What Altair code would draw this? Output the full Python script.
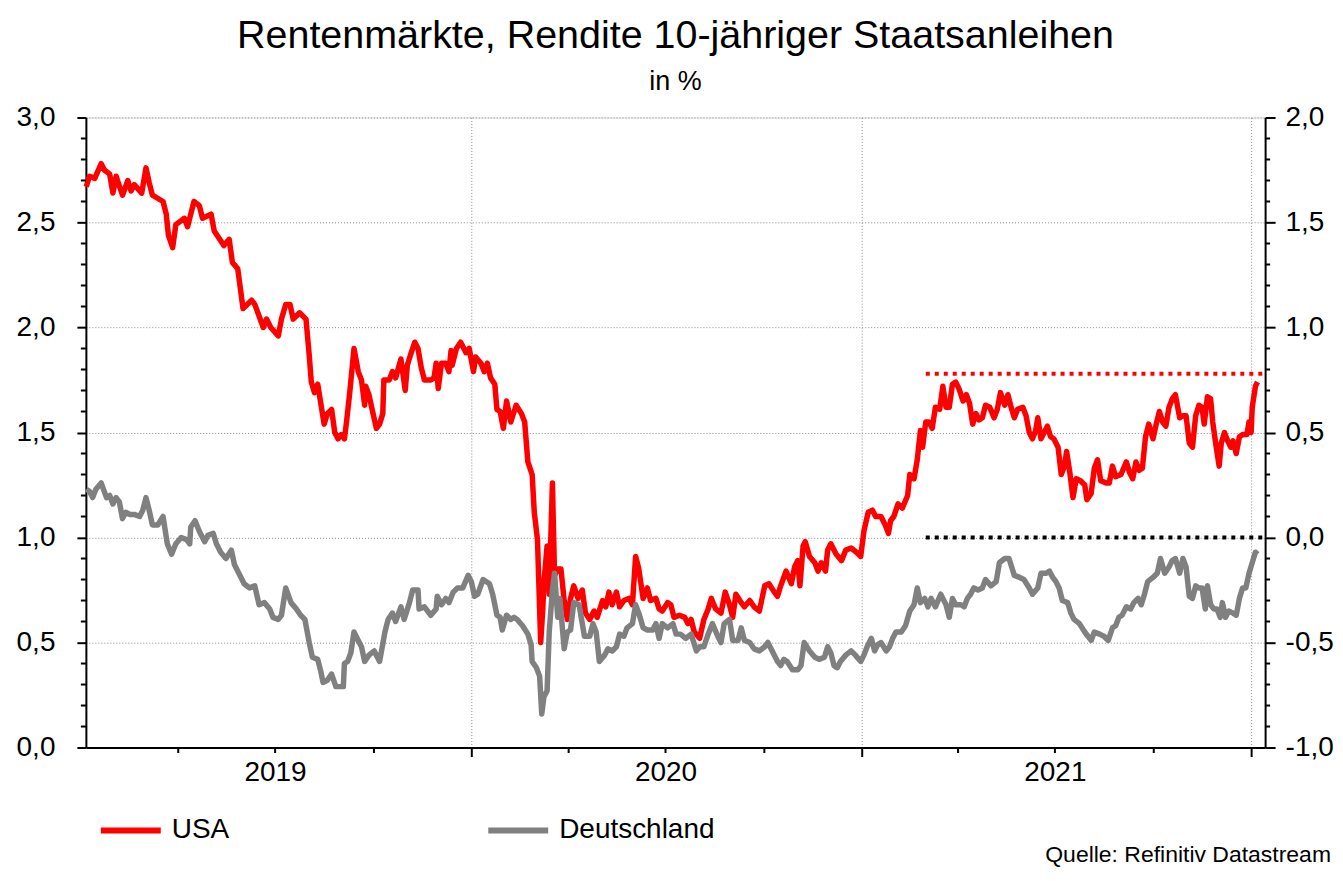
import altair as alt
import pandas as pd

# ---------------- data (days since 2019-01-01, yields in %) ----------------
us_day = [
    4, 7, 12, 18, 21, 26, 29, 32, 38, 43,
    46, 49, 56, 60, 63, 66, 76, 79, 81, 85,
    88, 96, 99, 105, 110, 113, 121, 124, 133, 138,
    141, 146, 151, 159, 162, 170, 173, 177, 184, 187,
    191, 195, 198, 204, 210, 213, 215, 218, 221, 227,
    230, 234, 237, 240, 243, 246, 248, 251, 255, 259,
    262, 265, 266, 269, 272, 276, 279, 282, 283, 288,
    291, 294, 299, 303, 305, 308, 312, 315, 318, 321,
    327, 330, 332, 334, 337, 341, 344, 346, 347, 351,
    355, 360, 363, 367, 369, 374, 377, 380, 383, 387,
    389, 392, 395, 398, 402, 407, 412, 415, 418, 422,
    424, 427, 430, 432, 433, 436, 438, 441, 443, 446,
    449, 452, 455, 458, 461, 465, 469, 472, 476, 480,
    483, 488, 491, 494, 497, 501, 504, 508, 513, 516,
    519, 522, 526, 530, 533, 538, 541, 544, 549, 552,
    555, 560, 565, 568, 571, 574, 579, 583, 587, 590,
    594, 599, 603, 607, 610, 613, 618, 621, 626, 630,
    635, 640, 644, 649, 652, 655, 660, 665, 668, 671,
    673, 676, 678, 682, 687, 690, 693, 697, 699, 702,
    707, 712, 716, 721, 726, 730, 733, 737, 741, 744,
    749, 753, 756, 758, 761, 765, 769, 774, 776, 780,
    783, 786, 788, 791, 794, 797, 800, 804, 807, 810,
    813, 816, 819, 822, 826, 829, 832, 835, 838, 841,
    844, 847, 851, 855, 858, 861, 865, 868, 871, 874,
    877, 882, 885, 888, 891, 894, 896, 899, 902, 905,
    908, 911, 915, 918, 921, 923, 926, 929, 932, 936,
    940, 942, 946, 949, 952, 955, 960, 963, 966, 969,
    974, 979, 982, 985, 988, 991, 994, 997, 1000, 1004,
    1007, 1010, 1013, 1016, 1019, 1022, 1025, 1029, 1032, 1035,
    1038, 1041, 1044, 1047, 1050, 1052, 1055, 1058, 1060, 1063,
    1066, 1068, 1071, 1074, 1077, 1079, 1082, 1085, 1088, 1092,
    1094, 1096, 1097, 1100, 1102,
]
us_val = [
    2.67, 2.72, 2.71, 2.78, 2.75, 2.73, 2.64, 2.72, 2.63, 2.70,
    2.65, 2.68, 2.64, 2.76, 2.69, 2.63, 2.60, 2.54, 2.44, 2.38,
    2.49, 2.52, 2.48, 2.60, 2.58, 2.52, 2.54, 2.46, 2.39, 2.42,
    2.31, 2.28, 2.09, 2.13, 2.11, 2.00, 2.04, 2.00, 1.96, 2.04,
    2.11, 2.11, 2.04, 2.07, 2.04, 1.87, 1.74, 1.69, 1.73, 1.54,
    1.59, 1.61, 1.50, 1.47, 1.49, 1.47, 1.55, 1.69, 1.90, 1.79,
    1.75, 1.63, 1.72, 1.68, 1.61, 1.52, 1.54, 1.59, 1.75, 1.75,
    1.79, 1.76, 1.85, 1.70, 1.82, 1.87, 1.93, 1.90, 1.81, 1.75,
    1.75, 1.76, 1.83, 1.71, 1.83, 1.83, 1.79, 1.89, 1.82, 1.90,
    1.93, 1.88, 1.90, 1.79, 1.86, 1.83, 1.79, 1.83, 1.76, 1.73,
    1.61, 1.60, 1.52, 1.65, 1.55, 1.63, 1.59, 1.55, 1.36, 1.30,
    1.12, 0.99, 0.50, 0.66, 0.78, 0.96, 0.73, 1.26, 0.82, 0.85,
    0.85, 0.70, 0.61, 0.71, 0.77, 0.71, 0.75, 0.64, 0.61, 0.65,
    0.62, 0.70, 0.67, 0.74, 0.68, 0.74, 0.67, 0.70, 0.71, 0.68,
    0.91, 0.85, 0.71, 0.76, 0.70, 0.71, 0.66, 0.65, 0.69, 0.68,
    0.62, 0.63, 0.62, 0.59, 0.61, 0.55, 0.52, 0.61, 0.66, 0.71,
    0.66, 0.64, 0.74, 0.68, 0.62, 0.73, 0.69, 0.67, 0.70, 0.67,
    0.65, 0.77, 0.78, 0.74, 0.72, 0.77, 0.84, 0.78, 0.86, 0.89,
    0.77, 0.96, 0.98, 0.91, 0.88, 0.84, 0.88, 0.84, 0.94, 0.97,
    0.92, 0.89, 0.94, 0.95, 0.93, 0.91, 1.03, 1.12, 1.13, 1.10,
    1.10, 1.06, 1.02, 1.08, 1.10, 1.16, 1.14, 1.20, 1.30, 1.28,
    1.37, 1.51, 1.43, 1.55, 1.55, 1.52, 1.62, 1.61, 1.72, 1.62,
    1.62, 1.73, 1.74, 1.71, 1.65, 1.68, 1.64, 1.54, 1.59, 1.56,
    1.57, 1.63, 1.62, 1.57, 1.61, 1.69, 1.63, 1.68, 1.62, 1.57,
    1.61, 1.62, 1.58, 1.50, 1.47, 1.51, 1.57, 1.47, 1.50, 1.53,
    1.48, 1.47, 1.43, 1.30, 1.34, 1.41, 1.31, 1.19, 1.28, 1.27,
    1.25, 1.18, 1.21, 1.33, 1.37, 1.27, 1.26, 1.26, 1.34, 1.29,
    1.30, 1.36, 1.31, 1.28, 1.36, 1.32, 1.33, 1.48, 1.54, 1.47,
    1.54, 1.60, 1.55, 1.53, 1.62, 1.66, 1.68, 1.57, 1.58, 1.58,
    1.45, 1.43, 1.58, 1.63, 1.62, 1.54, 1.67, 1.66, 1.55, 1.44,
    1.34, 1.45, 1.50, 1.46, 1.43, 1.46, 1.40, 1.48, 1.49, 1.49,
    1.55, 1.50, 1.62, 1.72, 1.74,
]

de_day = [
    4, 7, 10, 13, 18, 23, 26, 29, 32, 35,
    38, 41, 45, 49, 54, 57, 60, 63, 66, 71,
    76, 80, 84, 88, 93, 98, 101, 102, 106, 110,
    115, 118, 123, 126, 130, 135, 140, 143, 148, 152,
    157, 162, 166, 171, 176, 179, 184, 187, 191, 196,
    201, 205, 209, 213, 216, 221, 224, 226, 230, 234,
    238, 245, 246, 249, 252, 255, 259, 262, 265, 269,
    274, 279, 284, 287, 291, 294, 299, 302, 307, 310,
    315, 316, 321, 327, 332, 333, 337, 341, 344, 348,
    352, 357, 362, 365, 368, 371, 376, 382, 385, 389,
    392, 394, 398, 402, 405, 408, 413, 418, 421, 422,
    426, 429, 431, 433, 436, 438, 441, 443, 446, 448,
    452, 455, 458, 461, 466, 471, 476, 479, 482, 485,
    490, 493, 497, 501, 504, 508, 511, 516, 519, 522,
    526, 530, 535, 538, 541, 544, 549, 554, 557, 561,
    566, 571, 576, 579, 583, 587, 591, 596, 599, 602,
    607, 610, 615, 618, 621, 626, 630, 635, 640, 643,
    647, 652, 655, 658, 661, 666, 671, 674, 677, 682,
    687, 691, 696, 699, 702, 705, 708, 711, 716, 721,
    725, 730, 733, 736, 740, 743, 746, 749, 754, 757,
    760, 763, 768, 772, 776, 780, 783, 786, 790, 793,
    796, 800, 805, 810, 813, 816, 819, 824, 827, 830,
    833, 836, 840, 844, 847, 852, 857, 860, 865, 869,
    874, 879, 883, 888, 891, 896, 899, 904, 907, 910,
    913, 916, 919, 924, 927, 930, 935, 940, 943, 946,
    949, 954, 958, 962, 966, 969, 972, 975, 979, 983,
    986, 990, 993, 996, 999, 1004, 1008, 1011, 1015, 1019,
    1022, 1025, 1029, 1032, 1035, 1038, 1041, 1044, 1047, 1050,
    1053, 1055, 1058, 1061, 1064, 1067, 1069, 1072, 1075, 1079,
    1082, 1085, 1088, 1091, 1094, 1097, 1100, 1102,
]
de_val = [
    0.23, 0.22, 0.19, 0.23, 0.26, 0.19, 0.20, 0.16, 0.19, 0.17,
    0.09, 0.12, 0.11, 0.11, 0.10, 0.13, 0.19, 0.13, 0.06, 0.06,
    0.10, -0.03, -0.08, -0.03, 0.00, -0.01, -0.03, 0.05, 0.08, 0.03,
    -0.02, 0.01, 0.02, -0.03, -0.07, -0.10, -0.06, -0.13, -0.18, -0.22,
    -0.24, -0.23, -0.32, -0.31, -0.34, -0.38, -0.39, -0.37, -0.24, -0.31,
    -0.34, -0.37, -0.39, -0.50, -0.57, -0.58, -0.64, -0.69, -0.68, -0.65,
    -0.71, -0.71, -0.60, -0.59, -0.55, -0.45, -0.49, -0.52, -0.59, -0.56,
    -0.54, -0.59, -0.45, -0.39, -0.36, -0.40, -0.33, -0.39, -0.31, -0.25,
    -0.25, -0.34, -0.33, -0.37, -0.34, -0.28, -0.32, -0.29, -0.31, -0.26,
    -0.24, -0.24, -0.18, -0.21, -0.28, -0.27, -0.20, -0.22, -0.27, -0.37,
    -0.38, -0.44, -0.37, -0.39, -0.38, -0.39, -0.42, -0.46, -0.51, -0.59,
    -0.62, -0.66, -0.84, -0.76, -0.73, -0.45, -0.25, -0.17, -0.38, -0.29,
    -0.53, -0.45, -0.44, -0.31, -0.32, -0.47, -0.47, -0.41, -0.45, -0.59,
    -0.56, -0.53, -0.54, -0.52, -0.46, -0.47, -0.43, -0.41, -0.32, -0.36,
    -0.43, -0.44, -0.44, -0.41, -0.48, -0.41, -0.43, -0.41, -0.46, -0.46,
    -0.48, -0.46, -0.54, -0.52, -0.52, -0.46, -0.41, -0.47, -0.50, -0.41,
    -0.39, -0.49, -0.49, -0.43, -0.49, -0.50, -0.53, -0.54, -0.52, -0.50,
    -0.54, -0.59, -0.61, -0.58, -0.59, -0.63, -0.63, -0.61, -0.50, -0.54,
    -0.57, -0.58, -0.57, -0.52, -0.55, -0.61, -0.62, -0.59, -0.56, -0.54,
    -0.56, -0.59, -0.56, -0.52, -0.48, -0.54, -0.51, -0.50, -0.54, -0.52,
    -0.48, -0.45, -0.45, -0.42, -0.35, -0.32, -0.24, -0.31, -0.29, -0.33,
    -0.29, -0.33, -0.27, -0.32, -0.38, -0.29, -0.32, -0.32, -0.33, -0.29,
    -0.27, -0.24, -0.25, -0.24, -0.20, -0.23, -0.21, -0.12, -0.10, -0.10,
    -0.18, -0.19, -0.20, -0.24, -0.27, -0.24, -0.17, -0.17, -0.16, -0.19,
    -0.21, -0.24, -0.30, -0.31, -0.36, -0.39, -0.41, -0.45, -0.47, -0.49,
    -0.45, -0.46, -0.47, -0.49, -0.43, -0.42, -0.38, -0.37, -0.33, -0.34,
    -0.31, -0.29, -0.32, -0.27, -0.21, -0.19, -0.17, -0.10, -0.17, -0.14,
    -0.11, -0.10, -0.17, -0.10, -0.14, -0.28, -0.29, -0.23, -0.24, -0.24,
    -0.34, -0.23, -0.32, -0.34, -0.34, -0.38, -0.31, -0.38, -0.35, -0.36,
    -0.37, -0.29, -0.24, -0.24, -0.17, -0.12, -0.07, -0.08,
]

series_names = ["USA", "Deutschland"]
series_colors = ["#ff0000", "#808080"]

# dotted reference lines (from early March 2021 to the end of the chart)
ref_start = ["2021-03-02"]
ref_end = ["2022-01-14"]
us_ref_level = [1.78]   # USA high, left axis
de_ref_level = [0.0]    # zero line, right axis

left_ticks = [0.0, 0.5, 1.0, 1.5, 2.0, 2.5, 3.0]
right_ticks = [-1.0, -0.5, 0.0, 0.5, 1.0, 1.5, 2.0]
left_minor = [0.1, 0.2, 0.3, 0.4, 0.6, 0.7, 0.8, 0.9, 1.1, 1.2, 1.3, 1.4,
              1.6, 1.7, 1.8, 1.9, 2.1, 2.2, 2.3, 2.4, 2.6, 2.7, 2.8, 2.9]
right_minor = [-0.9, -0.8, -0.7, -0.6, -0.4, -0.3, -0.2, -0.1, 0.1, 0.2, 0.3, 0.4,
               0.6, 0.7, 0.8, 0.9, 1.1, 1.2, 1.3, 1.4, 1.6, 1.7, 1.8, 1.9]

title_text = "Rentenmärkte, Rendite 10-jähriger Staatsanleihen"
subtitle_text = "in %"
source_text = ["Quelle: Refinitiv Datastream"]

# ---------------- tables ----------------
assert len(us_day) == len(us_val) and len(de_day) == len(de_val)
START = pd.Timestamp("2019-01-01")

us_df = pd.DataFrame({"date": START + pd.to_timedelta(us_day, unit="D"),
                      "rendite": us_val, "land": series_names[0]})
de_df = pd.DataFrame({"date": START + pd.to_timedelta(de_day, unit="D"),
                      "rendite": de_val, "land": series_names[1]})
us_ref_df = pd.DataFrame({"date": pd.to_datetime(ref_start), "date2": pd.to_datetime(ref_end),
                          "rendite": us_ref_level})
de_ref_df = pd.DataFrame({"date": pd.to_datetime(ref_start), "date2": pd.to_datetime(ref_end),
                          "rendite": de_ref_level})
left_minor_df = pd.DataFrame({"rendite": left_minor})
right_minor_df = pd.DataFrame({"rendite": right_minor})
source_df = pd.DataFrame({"t": source_text})

# ---------------- styling ----------------
W, H = 1181, 631
FONT = "Liberation Sans"
GRID = "#8a8a8a"

comma_expr = "replace(replace(format(datum.value, '.1f'), '.', ','), '\u2212', '-')"

x_scale = alt.Scale(domain=[alt.DateTime(year=2019, month=1, date=4, hours=16),
                            alt.DateTime(year=2022, month=1, date=14, hours=2)])
x_values = [alt.DateTime(year=y, month=m, date=1)
            for y in (2019, 2020, 2021) for m in (1, 4, 7, 10)
            if not (y == 2019 and m == 1)] + [alt.DateTime(year=2022, month=1, date=1)]

x_axis = alt.Axis(
    values=x_values, title=None,
    labelExpr="month(datum.value) == 6 ? timeFormat(datum.value, '%Y') : ''",
    labelOverlap=False, labelFlush=False, labelBound=False,
    labelFont=FONT, labelFontSize=28, labelColor="black", labelPadding=6,
    domainColor="black", domainWidth=2,
    tickColor="black", tickWidth=2,
    tickSize={"condition": {"test": "month(datum.value) == 0", "value": 9}, "value": 5},
    grid=True, gridColor=GRID, gridDash=[1, 2], gridWidth=1,
    gridOpacity={"condition": {"test": "month(datum.value) == 0", "value": 1}, "value": 0},
)
yl_axis = alt.Axis(
    values=left_ticks, orient="left", title=None, labelExpr=comma_expr,
    labelFont=FONT, labelFontSize=28, labelColor="black", labelPadding=22,
    domainColor="black", domainWidth=2, tickColor="black", tickWidth=2, tickSize=9,
    grid=True, gridColor=GRID, gridDash=[1, 2], gridWidth=1,
)
yr_axis = alt.Axis(
    values=right_ticks, orient="right", title=None, labelExpr=comma_expr,
    labelFont=FONT, labelFontSize=28, labelColor="black", labelPadding=10,
    domainColor="black", domainWidth=2, tickColor="black", tickWidth=2, tickSize=10,
    grid=False,
)
yl_scale = alt.Scale(domain=[0, 3], nice=False, zero=False)
yr_scale = alt.Scale(domain=[-1, 2], nice=False, zero=False)

X = alt.X("date:T", scale=x_scale, axis=x_axis)
YL = alt.Y("rendite:Q", scale=yl_scale, axis=yl_axis)
YR = alt.Y("rendite:Q", scale=yr_scale, axis=yr_axis)

color = alt.Color(
    "land:N",
    scale=alt.Scale(domain=series_names, range=series_colors),
    legend=alt.Legend(
        orient="none", legendX=12, legendY=681, direction="horizontal", title=None,
        symbolType="stroke", symbolStrokeWidth=6, symbolSize=3600,
        labelFont=FONT, labelFontSize=28, labelColor="black", labelOffset=8,
        labelLimit=400, columnPadding=247, padding=0,
    ),
)

# ---------------- USA group (left axis) ----------------
us_line = alt.Chart(us_df).mark_line(strokeWidth=5.5, strokeJoin="round").encode(
    x=X, y=YL, color=color)
us_ref = alt.Chart(us_ref_df).mark_rule(color="#ff0000", strokeWidth=4, strokeDash=[4, 5]).encode(
    x=X, x2="date2:T", y=YL)
us_minor = alt.Chart(left_minor_df).mark_rule(color="black", strokeWidth=2).encode(
    y=YL, x=alt.value(-5), x2=alt.value(0))
source = alt.Chart(source_df).mark_text(
    align="right", baseline="alphabetic", font=FONT, fontSize=23, color="black").encode(
    text="t:N", x=alt.value(1247), y=alt.value(746))
us_group = alt.layer(us_ref, us_line, us_minor, source)

# ---------------- Germany group (right axis) ----------------
de_line = alt.Chart(de_df).mark_line(strokeWidth=5.5, strokeJoin="round").encode(
    x=X, y=YR, color=color)
de_ref = alt.Chart(de_ref_df).mark_rule(color="black", strokeWidth=4, strokeDash=[4, 5]).encode(
    x=X, x2="date2:T", y=YR)
de_minor = alt.Chart(right_minor_df).mark_rule(color="black", strokeWidth=2).encode(
    y=YR, x=alt.value(W), x2=alt.value(W + 5))
de_group = alt.layer(de_ref, de_line, de_minor)

chart = alt.layer(us_group, de_group).resolve_scale(y="independent").properties(
    width=W, height=H,
    padding={"left": 78, "top": 109, "right": 70, "bottom": 120},
    autosize=alt.AutoSizeParams(type="none"),
    title=alt.TitleParams(
        text=title_text, subtitle=subtitle_text, anchor="middle", frame="group",
        font=FONT, fontSize=39.5, fontWeight="normal", color="black",
        subtitleFont=FONT, subtitleFontSize=27, subtitleColor="black",
        subtitlePadding=12, offset=8,
    ),
).configure_view(stroke="black", strokeWidth=2).configure(background="white")

chart.save("out.html", embed_options={"renderer": "svg", "actions": False})
